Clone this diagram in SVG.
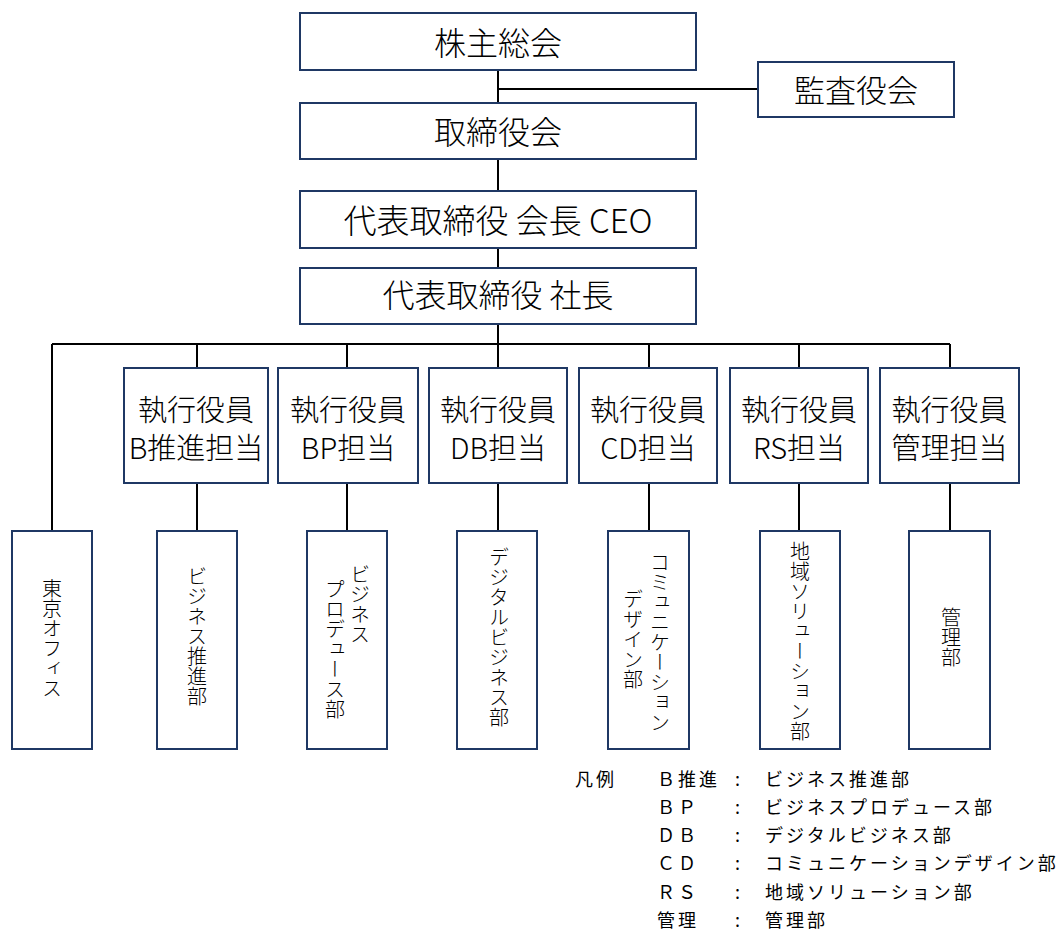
<svg xmlns="http://www.w3.org/2000/svg" width="1063" height="931" viewBox="0 0 1063 931">
<style>
.box{fill:#fff;stroke:#1F3864;stroke-width:2}
.conn{stroke:#000;stroke-width:2;fill:none}
.t{font-family:"Noto Sans CJK JP","Noto Sans",sans-serif;fill:#000;font-weight:300}
.big{font-size:32px;text-anchor:middle}
.ex{font-size:29px;text-anchor:middle}
.v{font-size:20px;writing-mode:vertical-rl;text-orientation:upright}
.lg{font-size:18px;letter-spacing:3px;font-weight:400}
</style>
<rect width="1063" height="931" fill="#fff"/>
<g id="connectors">
<path class="conn" d="M498 70V103M498 89H758M498 159V191M498 248V268M498 324V344M52 344H950M52 344V531M197 344V368M347 344V368M498 344V368M649 344V368M799 344V368M950 344V368M197 483V531M347 483V531M498 483V531M649 483V531M799 483V531M950 483V531"/>
</g>
<g id="n-shareholders"><rect class="box" x="300" y="13" width="396" height="57"/><text class="t big" x="498" y="55">株主総会</text></g>
<g id="n-auditors"><rect class="box" x="758" y="62" width="196" height="55"/><text class="t big" x="856" y="102" style="font-size:31px">監査役会</text></g>
<g id="n-board"><rect class="box" x="300" y="103" width="396" height="56"/><text class="t big" x="498" y="144">取締役会</text></g>
<g id="n-ceo"><rect class="box" x="300" y="191" width="396" height="57"/><text class="t big" x="498" y="233" style="font-size:33px">代表取締役 会長 CEO</text></g>
<g id="n-president"><rect class="box" x="300" y="268" width="396" height="56"/><text class="t big" x="498" y="307">代表取締役 社長</text></g>
<g id="n-ex-b"><rect class="box" x="124" y="368" width="144" height="115"/><text class="t ex" x="196" y="421">執行役員</text><text class="t ex" x="196" y="459">B推進担当</text></g>
<g id="n-ex-bp"><rect class="box" x="278" y="368" width="140" height="115"/><text class="t ex" x="348" y="421">執行役員</text><text class="t ex" x="348" y="459">BP担当</text></g>
<g id="n-ex-db"><rect class="box" x="429" y="368" width="138" height="115"/><text class="t ex" x="498" y="421">執行役員</text><text class="t ex" x="498" y="459">DB担当</text></g>
<g id="n-ex-cd"><rect class="box" x="579" y="368" width="138" height="115"/><text class="t ex" x="648" y="421">執行役員</text><text class="t ex" x="648" y="459">CD担当</text></g>
<g id="n-ex-rs"><rect class="box" x="730" y="368" width="138" height="115"/><text class="t ex" x="799" y="421">執行役員</text><text class="t ex" x="799" y="459">RS担当</text></g>
<g id="n-ex-admin"><rect class="box" x="880" y="368" width="139" height="115"/><text class="t ex" x="949.5" y="421">執行役員</text><text class="t ex" x="949.5" y="459">管理担当</text></g>
<g id="n-tokyo"><rect class="box" x="12" y="531" width="80" height="218"/><text class="t v" x="52" y="578">東京オフィス</text></g>
<g id="n-bdept"><rect class="box" x="157" y="531" width="80" height="218"/><text class="t v" x="197" y="566">ビジネス推進部</text></g>
<g id="n-bpdept"><rect class="box" x="307" y="531" width="80" height="218"/><text class="t v" x="360" y="564">ビジネス</text><text class="t v" x="335" y="579">プロデュース部</text></g>
<g id="n-dbdept"><rect class="box" x="457" y="531" width="80" height="218"/><text class="t v" x="499" y="547">デジタルビジネス部</text></g>
<g id="n-cddept"><rect class="box" x="608" y="531" width="81" height="218"/><text class="t v" x="660" y="552">コミュニケーション</text><text class="t v" x="633" y="589">デザイン部</text></g>
<g id="n-rsdept"><rect class="box" x="760" y="531" width="80" height="218"/><text class="t v" x="800" y="541">地域ソリューション部</text></g>
<g id="n-admindept"><rect class="box" x="909" y="531" width="81" height="218"/><text class="t v" x="951" y="607">管理部</text></g>
<g id="legend" class="t lg">
<text x="575" y="786">凡例</text>
<text x="657" y="786">Ｂ推進</text><text x="735" y="786">:</text><text x="765" y="786">ビジネス推進部</text>
<text x="657" y="814">ＢＰ</text><text x="735" y="814">:</text><text x="765" y="814">ビジネスプロデュース部</text>
<text x="657" y="842">ＤＢ</text><text x="735" y="842">:</text><text x="765" y="842">デジタルビジネス部</text>
<text x="657" y="870">ＣＤ</text><text x="735" y="870">:</text><text x="765" y="870">コミュニケーションデザイン部</text>
<text x="657" y="899">ＲＳ</text><text x="735" y="899">:</text><text x="765" y="899">地域ソリューション部</text>
<text x="657" y="927">管理</text><text x="735" y="927">:</text><text x="765" y="927">管理部</text>
</g>
</svg>
